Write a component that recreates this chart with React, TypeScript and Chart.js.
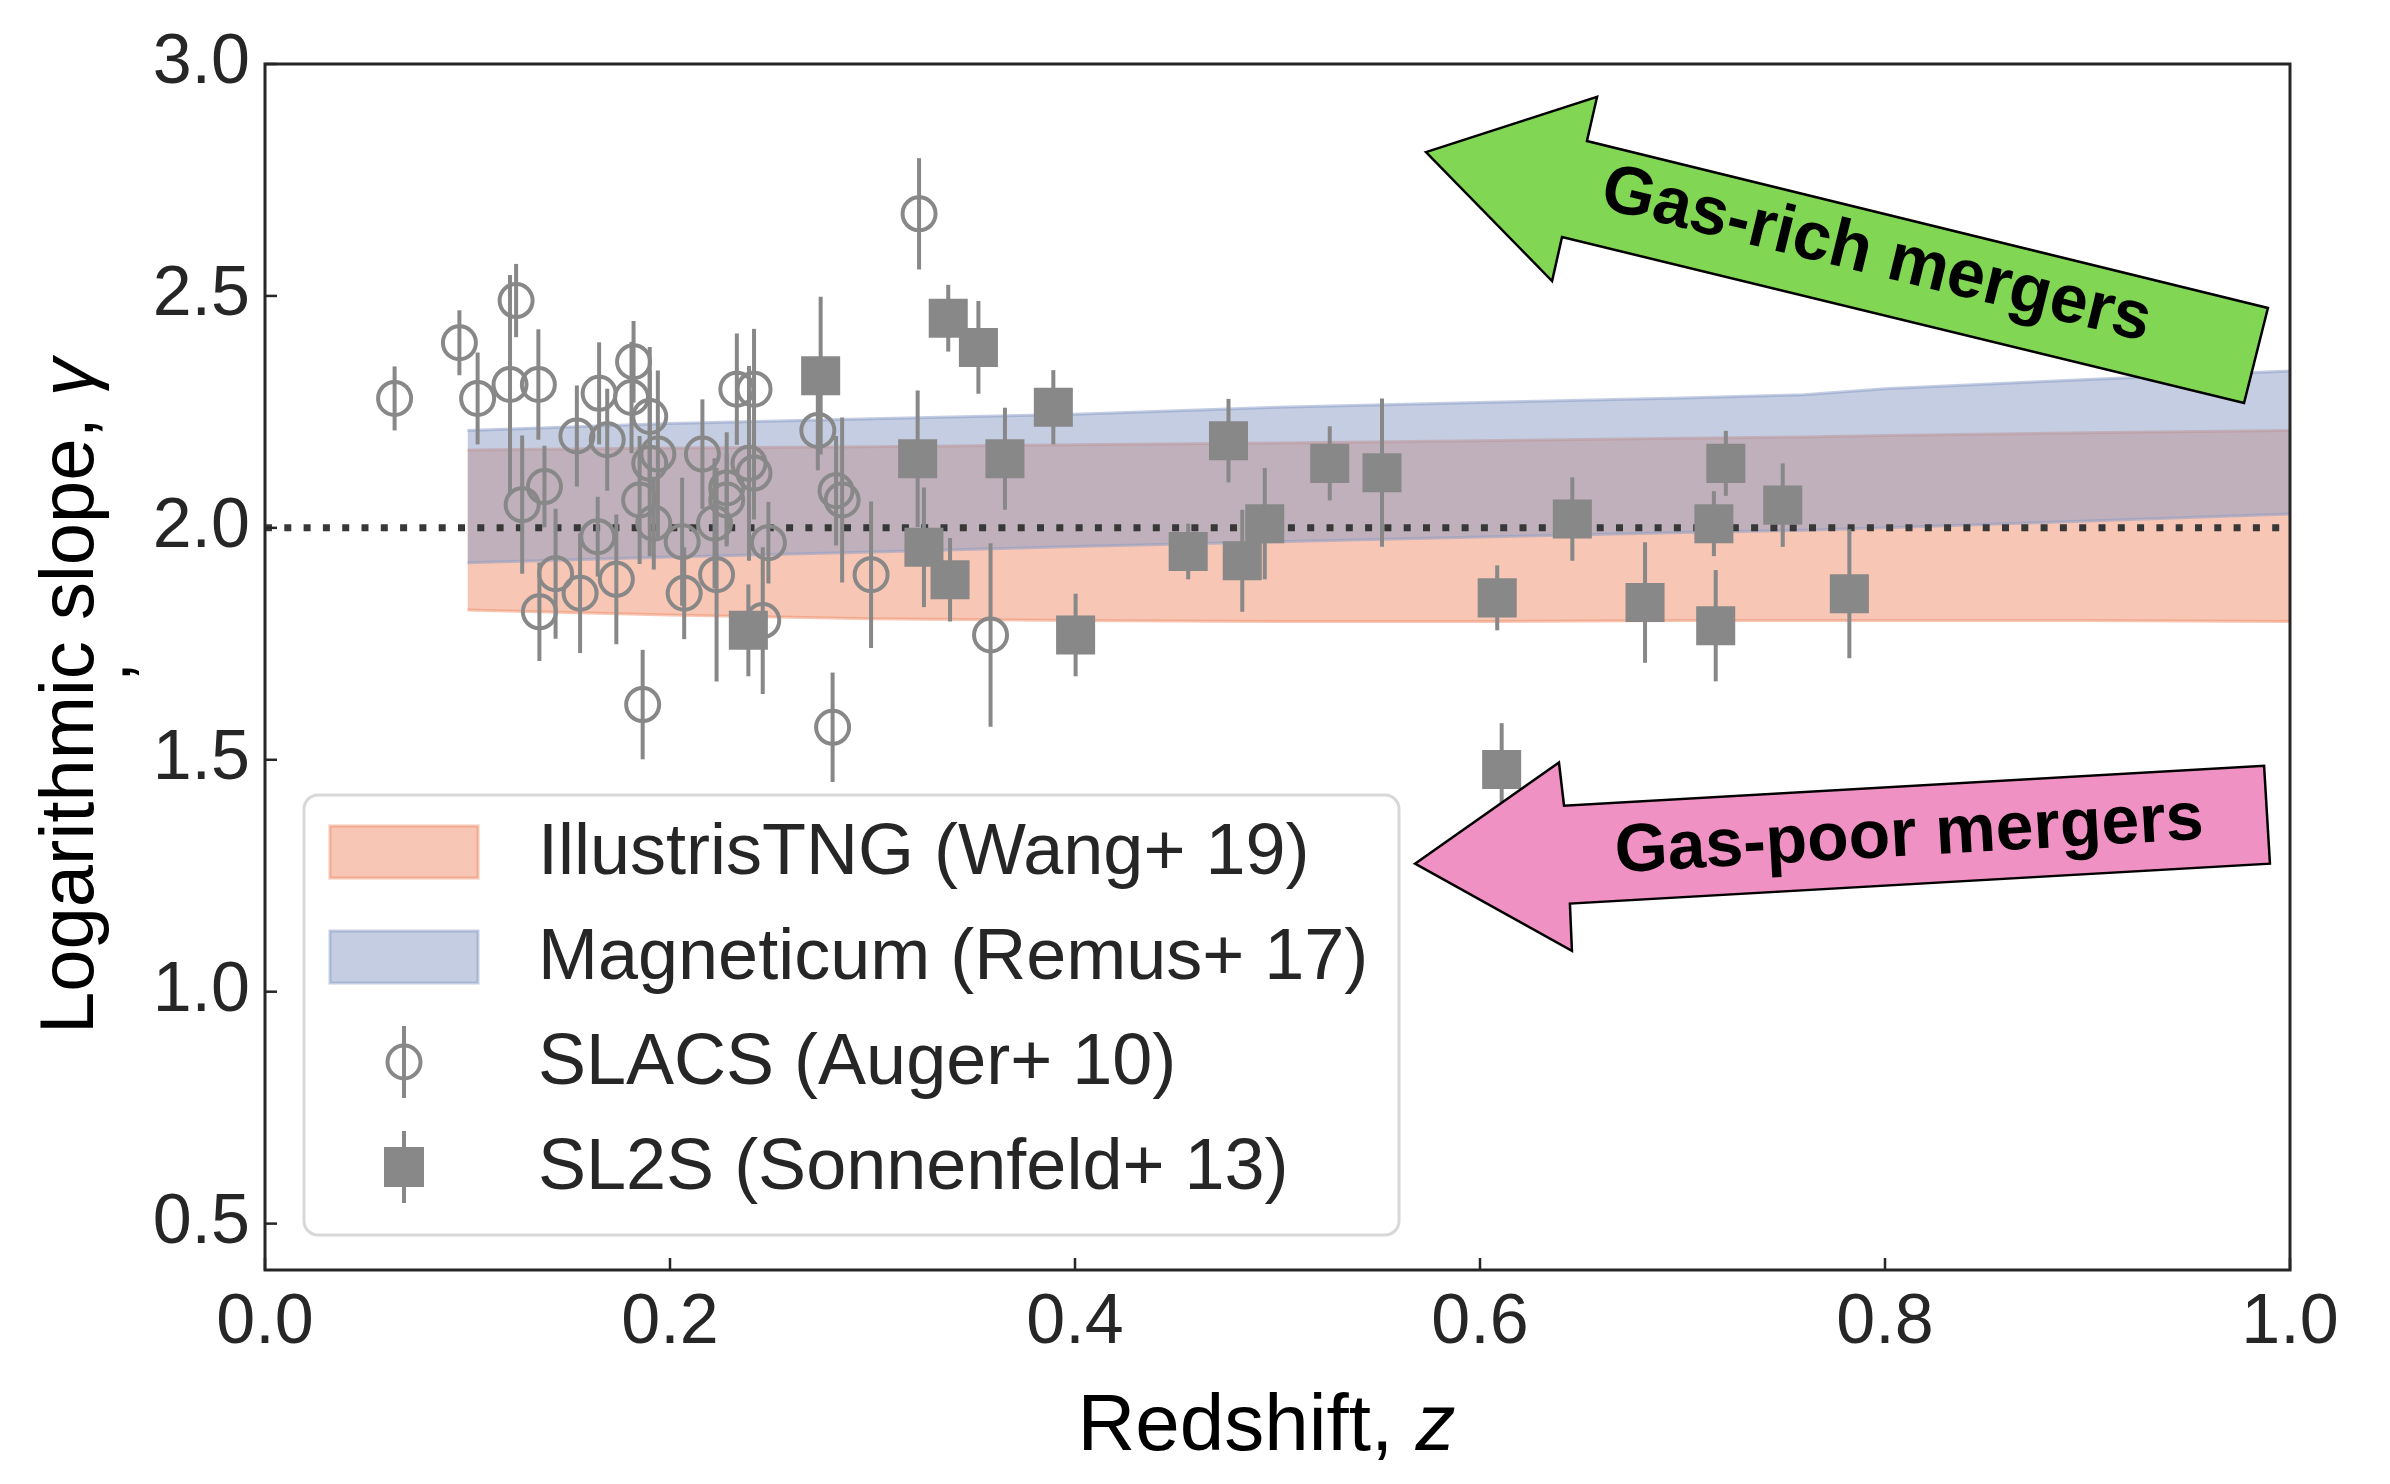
import React, { useEffect, useRef } from 'react';
import { Chart, registerables } from 'chart.js';

Chart.register(...registerables);

const W = 2390;
const H = 1484;
const FONT = 'Liberation Sans';
const INK = '#262626';
const GREY = '#888888';

// SLACS (Auger+ 10): redshift, slope, 1-sigma error
const slacsZ = [
  0.064, 0.096, 0.124, 0.121, 0.105, 0.135, 0.127, 0.138, 0.154, 0.165,
  0.169, 0.182, 0.181, 0.190, 0.190, 0.194, 0.185, 0.192, 0.216, 0.206,
  0.207, 0.222, 0.223, 0.228, 0.228, 0.233, 0.2415, 0.239, 0.2415, 0.2486,
  0.2458, 0.273, 0.282, 0.285, 0.1355, 0.1435, 0.1556, 0.1643, 0.1735, 0.1865,
  0.2803, 0.2993, 0.323, 0.3583,
];
const slacsGamma = [
  2.279, 2.399, 2.49, 2.309, 2.279, 2.309, 2.05, 2.089, 2.198, 2.29,
  2.19, 2.358, 2.281, 2.24, 2.139, 2.159, 2.06, 2.01, 2.159, 1.97,
  1.859, 2.01, 1.899, 2.086, 2.06, 2.299, 2.299, 2.139, 2.118, 1.968,
  1.8, 2.21, 2.08, 2.06, 1.819, 1.901, 1.859, 1.981, 1.889, 1.619,
  1.57, 1.899, 2.677, 1.769,
];
const slacsErr = [
  0.069, 0.07, 0.079, 0.236, 0.099, 0.119, 0.149, 0.088, 0.109, 0.11,
  0.11, 0.088, 0.12, 0.15, 0.2, 0.18, 0.138, 0.1, 0.118, 0.138,
  0.099, 0.14, 0.23, 0.12, 0.1, 0.12, 0.13, 0.21, 0.1, 0.088,
  0.158, 0.086, 0.118, 0.178, 0.106, 0.14, 0.129, 0.086, 0.14, 0.118,
  0.118, 0.158, 0.12, 0.198,
];

// SL2S (Sonnenfeld+ 13)
const sl2sZ = [
  0.2744, 0.2387, 0.3223, 0.3254, 0.3374, 0.3383, 0.3523, 0.3654, 0.3893, 0.4003,
  0.4559, 0.4758, 0.4826, 0.4937, 0.5258, 0.5516, 0.6085, 0.6107, 0.6456, 0.6815,
  0.7155, 0.7164, 0.7214, 0.7495, 0.7824,
];
const sl2sGamma = [
  2.328, 1.779, 2.149, 1.958, 2.452, 1.888, 2.389, 2.149, 2.26, 1.769,
  1.949, 2.188, 1.929, 2.009, 2.139, 2.119, 1.849, 1.479, 2.019, 1.839,
  2.009, 1.789, 2.139, 2.049, 1.858,
];
const sl2sErr = [
  0.17, 0.099, 0.147, 0.129, 0.072, 0.09, 0.1, 0.11, 0.08, 0.089,
  0.06, 0.09, 0.11, 0.12, 0.08, 0.16, 0.07, 0.1, 0.09, 0.13,
  0.07, 0.12, 0.07, 0.09, 0.139,
];

// simulation bands
const bandZ = [0.1, 0.2, 0.3, 0.4, 0.5, 0.6, 0.7, 0.76, 0.8, 0.9, 1.0];
const tngLow = [1.823, 1.812, 1.804, 1.8, 1.798, 1.798, 1.8, 1.8, 1.8, 1.8, 1.798];
const tngHigh = [2.168, 2.172, 2.175, 2.179, 2.183, 2.188, 2.193, 2.196, 2.199, 2.205, 2.21];
const magLow = [1.925, 1.937, 1.948, 1.96, 1.97, 1.98, 1.99, 1.995, 2.0, 2.015, 2.03];
const magHigh = [2.21, 2.225, 2.235, 2.245, 2.26, 2.27, 2.28, 2.287, 2.3, 2.32, 2.338];

const xTicks = [0, 0.2, 0.4, 0.6, 0.8, 1.0];
const yTicks = [0.5, 1.0, 1.5, 2.0, 2.5, 3.0];

// annotation arrows (outline and label centre in data coordinates)
const richArrowZ = [0.5733, 0.6578, 0.6528, 0.9891, 0.9773, 0.6405, 0.6356];
const richArrowGamma = [2.81, 2.929, 2.834, 2.474, 2.269, 2.627, 2.532];
const richLabel = { z: 0.7956, g: 2.586 };
const poorArrowZ = [0.5679, 0.639, 0.6415, 0.9872, 0.9901, 0.6444, 0.6454];
const poorArrowGamma = [1.276, 1.494, 1.401, 1.487, 1.276, 1.19, 1.088];
const poorLabel = { z: 0.8119, g: 1.334 };

const legendLabels = [
  'IllustrisTNG (Wang+ 19)',
  'Magneticum (Remus+ 17)',
  'SLACS (Auger+ 10)',
  'SL2S (Sonnenfeld+ 13)',
];

const tngFill = 'rgba(239,141,105,0.5)';
const magFill = 'rgba(137,155,197,0.5)';

const pts = (xs: number[], ys: number[]) => xs.map((x, i) => ({ x, y: ys[i] }));

const errorBars = {
  id: 'errorBars',
  beforeDatasetDraw(chart: any, args: any) {
    const ds = chart.data.datasets[args.index];
    if (!ds.yErr) return;
    const { ctx, scales } = chart;
    ctx.save();
    ctx.strokeStyle = GREY;
    ctx.lineWidth = 4;
    ds.data.forEach((p: any, i: number) => {
      const x = scales.x.getPixelForValue(p.x);
      ctx.beginPath();
      ctx.moveTo(x, scales.y.getPixelForValue(p.y - ds.yErr[i]));
      ctx.lineTo(x, scales.y.getPixelForValue(p.y + ds.yErr[i]));
      ctx.stroke();
    });
    ctx.restore();
  },
};

const drawArrow = (
  chart: any,
  zs: number[],
  gs: number[],
  fill: string,
  label: string,
  at: { z: number; g: number },
) => {
  const { ctx, scales } = chart;
  const p = zs.map((z, i) => [scales.x.getPixelForValue(z), scales.y.getPixelForValue(gs[i])]);
  ctx.save();
  ctx.beginPath();
  p.forEach(([x, y], i) => (i ? ctx.lineTo(x, y) : ctx.moveTo(x, y)));
  ctx.closePath();
  ctx.fillStyle = fill;
  ctx.fill();
  ctx.lineWidth = 2.5;
  ctx.strokeStyle = '#000';
  ctx.lineJoin = 'miter';
  ctx.stroke();
  const ang = Math.atan2(p[3][1] - p[2][1], p[3][0] - p[2][0]);
  ctx.translate(scales.x.getPixelForValue(at.z), scales.y.getPixelForValue(at.g));
  ctx.rotate(ang);
  ctx.fillStyle = '#000';
  ctx.font = `bold 68px "${FONT}"`;
  ctx.textAlign = 'center';
  ctx.textBaseline = 'middle';
  ctx.fillText(label, 0, 0);
  ctx.restore();
};

const decorations = {
  id: 'decorations',
  afterDatasetsDraw(chart: any) {
    const { ctx, chartArea: ca, scales } = chart;
    ctx.save();
    // frame
    ctx.strokeStyle = INK;
    ctx.lineWidth = 3;
    ctx.strokeRect(ca.left, ca.top, ca.right - ca.left, ca.bottom - ca.top);
    // inward ticks
    ctx.lineWidth = 2.5;
    xTicks.forEach((v) => {
      const x = scales.x.getPixelForValue(v);
      ctx.beginPath();
      ctx.moveTo(x, ca.bottom);
      ctx.lineTo(x, ca.bottom - 12);
      ctx.stroke();
    });
    yTicks.forEach((v) => {
      const y = scales.y.getPixelForValue(v);
      ctx.beginPath();
      ctx.moveTo(ca.left, y);
      ctx.lineTo(ca.left + 12, y);
      ctx.stroke();
    });

    // legend
    const lx = ca.left + 39;
    const ly = ca.bottom - 475;
    ctx.beginPath();
    ctx.roundRect(lx, ly, 1095, 440, 14);
    ctx.fillStyle = 'rgba(255,255,255,0.8)';
    ctx.fill();
    ctx.strokeStyle = '#d8d8d8';
    ctx.lineWidth = 3;
    ctx.stroke();
    legendLabels.forEach((text, i) => {
      const cy = ly + 57 + i * 105;
      const sx = lx + 100;
      if (i < 2) {
        const c = i === 0 ? tngFill : magFill;
        ctx.fillStyle = c;
        ctx.fillRect(lx + 26, cy - 26, 148, 52);
        ctx.strokeStyle = c;
        ctx.lineWidth = 3;
        ctx.strokeRect(lx + 26, cy - 26, 148, 52);
      } else {
        ctx.strokeStyle = GREY;
        ctx.lineWidth = 4;
        ctx.beginPath();
        ctx.moveTo(sx, cy - 36);
        ctx.lineTo(sx, cy + 36);
        ctx.stroke();
        if (i === 2) {
          ctx.beginPath();
          ctx.arc(sx, cy, 16.5, 0, Math.PI * 2);
          ctx.stroke();
        } else {
          ctx.fillStyle = GREY;
          ctx.fillRect(sx - 20, cy - 20, 40, 40);
        }
      }
      ctx.fillStyle = INK;
      ctx.font = `72px "${FONT}"`;
      ctx.textAlign = 'left';
      ctx.textBaseline = 'middle';
      ctx.fillText(text, lx + 234, cy + 2);
    });
    ctx.restore();

    drawArrow(chart, richArrowZ, richArrowGamma, '#81d653', 'Gas-rich mergers', richLabel);
    drawArrow(chart, poorArrowZ, poorArrowGamma, '#f091c4', 'Gas-poor mergers', poorLabel);
  },
  afterDraw(chart: any) {
    const { ctx, chartArea: ca } = chart;
    ctx.save();
    ctx.fillStyle = '#000';
    ctx.textBaseline = 'alphabetic';
    ctx.textAlign = 'left';
    // x title
    const a = 'Redshift, ';
    const b = 'z';
    ctx.font = `80px "${FONT}"`;
    const wa = ctx.measureText(a).width;
    ctx.font = `italic 80px "${FONT}"`;
    const wb = ctx.measureText(b).width;
    const x0 = (ca.left + ca.right) / 2 - 11 - (wa + wb) / 2;
    ctx.font = `80px "${FONT}"`;
    ctx.fillText(a, x0, 1450);
    ctx.font = `italic 80px "${FONT}"`;
    ctx.fillText(b, x0 + wa, 1450);
    // y title
    const c = 'Logarithmic slope, ';
    const d = 'γ';
    ctx.font = `76px "${FONT}"`;
    const wc = ctx.measureText(c).width;
    ctx.font = `italic 76px "${FONT}"`;
    const wd = ctx.measureText(d).width;
    ctx.translate(93, 1034);
    ctx.rotate(-Math.PI / 2);
    ctx.font = `76px "${FONT}"`;
    ctx.fillText(c, 0, 0);
    ctx.font = `italic 76px "${FONT}"`;
    ctx.fillText(d, wc, 0);
    ctx.restore();
    // stray mark beside the label
    ctx.save();
    ctx.translate(130, 672);
    ctx.rotate(-Math.PI / 2);
    ctx.font = `70px "${FONT}"`;
    ctx.fillStyle = '#000';
    ctx.textAlign = 'center';
    ctx.fillText(',', 0, 0);
    ctx.restore();
    void wd;
  },
};

export default function App() {
  const ref = useRef<HTMLCanvasElement | null>(null);

  useEffect(() => {
    if (!ref.current) return;
    const chart = new Chart(ref.current, {
      type: 'scatter',
      data: {
        datasets: [
          {
            type: 'scatter',
            label: 'SL2S (Sonnenfeld+ 13)',
            data: pts(sl2sZ, sl2sGamma),
            yErr: sl2sErr,
            pointStyle: 'rect',
            pointRadius: 27.6,
            backgroundColor: GREY,
            borderWidth: 0,
            order: 0,
          } as any,
          {
            type: 'scatter',
            label: 'SLACS (Auger+ 10)',
            data: pts(slacsZ, slacsGamma),
            yErr: slacsErr,
            pointStyle: 'circle',
            pointRadius: 16.5,
            borderWidth: 4,
            borderColor: GREY,
            backgroundColor: 'rgba(0,0,0,0)',
            order: 1,
          } as any,
          {
            type: 'line',
            label: 'isothermal',
            data: [{ x: 0, y: 2 }, { x: 1, y: 2 }],
            borderColor: '#383838',
            borderWidth: 7,
            borderDash: [7, 12.3],
            pointRadius: 0,
            fill: false,
            order: 2,
          },
          {
            type: 'line',
            label: 'Magneticum low',
            data: pts(bandZ, magLow),
            borderColor: magFill,
            borderWidth: 3,
            pointRadius: 0,
            fill: false,
            order: 3,
          },
          {
            type: 'line',
            label: 'Magneticum (Remus+ 17)',
            data: pts(bandZ, magHigh),
            borderColor: magFill,
            backgroundColor: magFill,
            borderWidth: 3,
            pointRadius: 0,
            fill: { target: 3 },
            order: 3,
          },
          {
            type: 'line',
            label: 'IllustrisTNG low',
            data: pts(bandZ, tngLow),
            borderColor: tngFill,
            borderWidth: 3,
            pointRadius: 0,
            fill: false,
            order: 4,
          },
          {
            type: 'line',
            label: 'IllustrisTNG (Wang+ 19)',
            data: pts(bandZ, tngHigh),
            borderColor: tngFill,
            backgroundColor: tngFill,
            borderWidth: 3,
            pointRadius: 0,
            fill: { target: 5 },
            order: 4,
          },
        ],
      },
      options: {
        responsive: false,
        animation: false,
        devicePixelRatio: 1,
        events: [],
        layout: { padding: { top: 64, right: 100, left: 0, bottom: 0 } },
        plugins: {
          legend: { display: false },
          tooltip: { enabled: false },
        },
        scales: {
          x: {
            type: 'linear',
            min: 0,
            max: 1,
            grid: { display: false, drawTicks: false },
            border: { display: false },
            afterBuildTicks: (s: any) => {
              s.ticks = xTicks.map((value) => ({ value }));
            },
            afterFit: (s: any) => {
              s.height = 214;
            },
            ticks: {
              padding: 12,
              color: INK,
              font: { family: FONT, size: 70 },
              callback: (v: any) => Number(v).toFixed(1),
            },
          },
          y: {
            type: 'linear',
            min: 0.4,
            max: 3.0,
            grid: { display: false, drawTicks: false },
            border: { display: false },
            afterBuildTicks: (s: any) => {
              s.ticks = yTicks.map((value) => ({ value }));
            },
            afterFit: (s: any) => {
              s.width = 265;
            },
            ticks: {
              padding: 15,
              color: INK,
              font: { family: FONT, size: 70 },
              callback: (v: any) => Number(v).toFixed(1),
            },
          },
        },
      },
      plugins: [errorBars, decorations],
    });
    return () => chart.destroy();
  }, []);

  return (
    <div style={{ position: 'fixed', left: 0, top: 0, width: W, height: H, background: '#fff' }}>
      <canvas ref={ref} width={W} height={H} style={{ width: W, height: H, display: 'block' }} />
    </div>
  );
}
